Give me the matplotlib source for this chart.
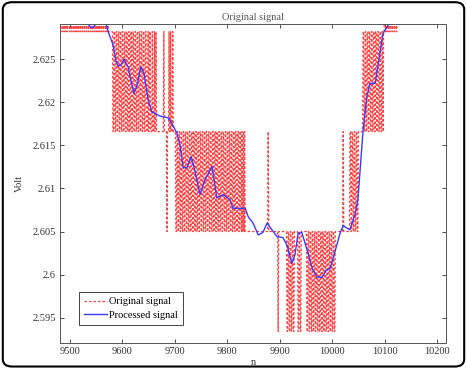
import numpy as np
import matplotlib.pyplot as plt
from matplotlib.patches import FancyBboxPatch

plt.rcParams['font.family'] = ['Liberation Serif', 'DejaVu Serif']

# quantised ADC levels of the original signal (code -> volt)
levels = [2.5934, 2.6050, 2.6166, 2.6282, 2.6398]

# original signal, one level code per sample, starting at n = 9480
orig_start = 9480
orig_pieces = [
    "4433443344 3344334443 3443344334 4334433443 3443344334 4334433443 3443344334 4334433443 3443344334 3343333333",  # 9480-9579
    "3322332233 2233223322 3322332233 2233223322 3322332233 2233223322 3322332223 2233222322 2322322",  # 9580-9666
    "2222222222",  # 9667-9676
    "2232222212 2232232223 222",  # 9677-9699
    "2211221122 1122112211 2211221122 1122112211 2211221122 1122112211 2211221122 1122112211 2211221122 1122112211 2211221122 1122112211 2211221121 121211111",  # 9700-9838
    "1111111111 1111111111 1111111111 111111111",  # 9839-9877
    "2",
    "1111111111 11111111",
    "0",
    "1111111111 111111",
    "0011001100 110011",  # 9914-9929
    "11111",
    "00110011",  # 9935-9942
    "111111111",
    "0011001100 1100110011 0011001100 1100110011 0011001100 1100",  # 9952-10005
    "1111111111 11111",
    "2",
    "1111111111 11",
    "2211221122 112211",  # 10034-10049
    "222222222",
    "3322332233 2233223322 3322332233 223322332",  # 10059-10097
    "3344334433 4433443344 334433444",  # 10098-10126
    "444444444",
]

# processed signal
proc_n = [9530, 9534, 9542, 9550, 9553, 9565, 9569, 9574, 9582, 9588, 9592, 9597,
          9603, 9611, 9616, 9622, 9628, 9635, 9641, 9649, 9656, 9672, 9687, 9693,
          9704, 9710, 9716, 9723, 9731, 9738, 9748, 9756, 9771, 9780, 9792, 9805,
          9811, 9824, 9834, 9840, 9849, 9859, 9868, 9876, 9885, 9895, 9906, 9914,
          9923, 9929, 9935, 9942, 9952, 9962, 9971, 9981, 9988, 9996, 10005, 10015,
          10021, 10028, 10034, 10044, 10049, 10059, 10066, 10072, 10082, 10091,
          10097, 10107, 10114]
proc_v = [2.6293, 2.6291, 2.6286, 2.6291, 2.6296, 2.6296, 2.6291, 2.6280, 2.6267,
          2.6247, 2.6242, 2.6243, 2.6250, 2.6241, 2.6226, 2.6210, 2.6220, 2.6241,
          2.6234, 2.6203, 2.6189, 2.6184, 2.6182, 2.6177, 2.6164, 2.6150, 2.6124,
          2.6124, 2.6137, 2.6121, 2.6093, 2.6108, 2.6126, 2.6089, 2.6093, 2.6087,
          2.6077, 2.6077, 2.6077, 2.6067, 2.6060, 2.6046, 2.6049, 2.6060, 2.6052,
          2.6044, 2.6043, 2.6034, 2.6013, 2.6023, 2.6048, 2.6049, 2.6029, 2.6007,
          2.5997, 2.5997, 2.6005, 2.6007, 2.6026, 2.6048, 2.6057, 2.6054, 2.6052,
          2.6071, 2.6087, 2.6168, 2.6206, 2.6222, 2.6222, 2.6257, 2.6280, 2.6290,
          2.6293]

x_ticks = [9500, 9600, 9700, 9800, 9900, 10000, 10100, 10200]
y_ticks = [2.595, 2.6, 2.605, 2.61, 2.615, 2.62, 2.625]

codes = "".join(orig_pieces).replace(" ", "")
orig_n = orig_start + np.arange(len(codes))
orig_v = np.array([levels[int(c)] for c in codes])

fig = plt.figure(figsize=(4.67, 3.68), dpi=100)
ax = fig.add_axes([0.1285, 0.068, 0.8265, 0.867])

ax.plot(orig_n, orig_v, color='#ff2a2a', alpha=0.9, linestyle=(0, (2.0, 1.6)),
        linewidth=0.9, label='Original signal')
ax.plot(proc_n, proc_v, color='#3a3aff', linewidth=1.0, label='Processed signal')

ax.set_xlim(9481, 10217)
ax.set_ylim(2.59206, 2.6291)
ax.set_xticks(x_ticks)
ax.set_yticks(y_ticks)
ax.set_yticklabels(['2.595', '2.6', '2.605', '2.61', '2.615', '2.62', '2.625'])
ax.tick_params(direction='in', top=True, right=True, labelsize=7.5,
               colors='#333333', length=3, width=0.6, pad=3)
for s in ax.spines.values():
    s.set_color('#555555')
    s.set_linewidth(0.7)

ax.set_title('Original signal', fontsize=7.5, color='#555555', pad=3)
ax.set_ylabel('Volt', fontsize=7.5, color='#333333', labelpad=6)
ax.set_xlabel('n', fontsize=7.5, color='#333333', labelpad=1)

leg = ax.legend(loc='lower left', bbox_to_anchor=(0.035, 0.04), fontsize=7.5,
                fancybox=False, framealpha=1, edgecolor='#444444',
                handlelength=2.2, handletextpad=0.2, borderpad=0.5,
                labelspacing=0.4)
leg.get_frame().set_linewidth(0.7)

border = FancyBboxPatch((0.006, 0.004), 0.988, 0.99, transform=fig.transFigure,
                        boxstyle='round,pad=0,rounding_size=0.02',
                        facecolor='none', edgecolor='black', linewidth=1.5)
fig.patches.append(border)

fig.savefig('out.png', dpi=100)
